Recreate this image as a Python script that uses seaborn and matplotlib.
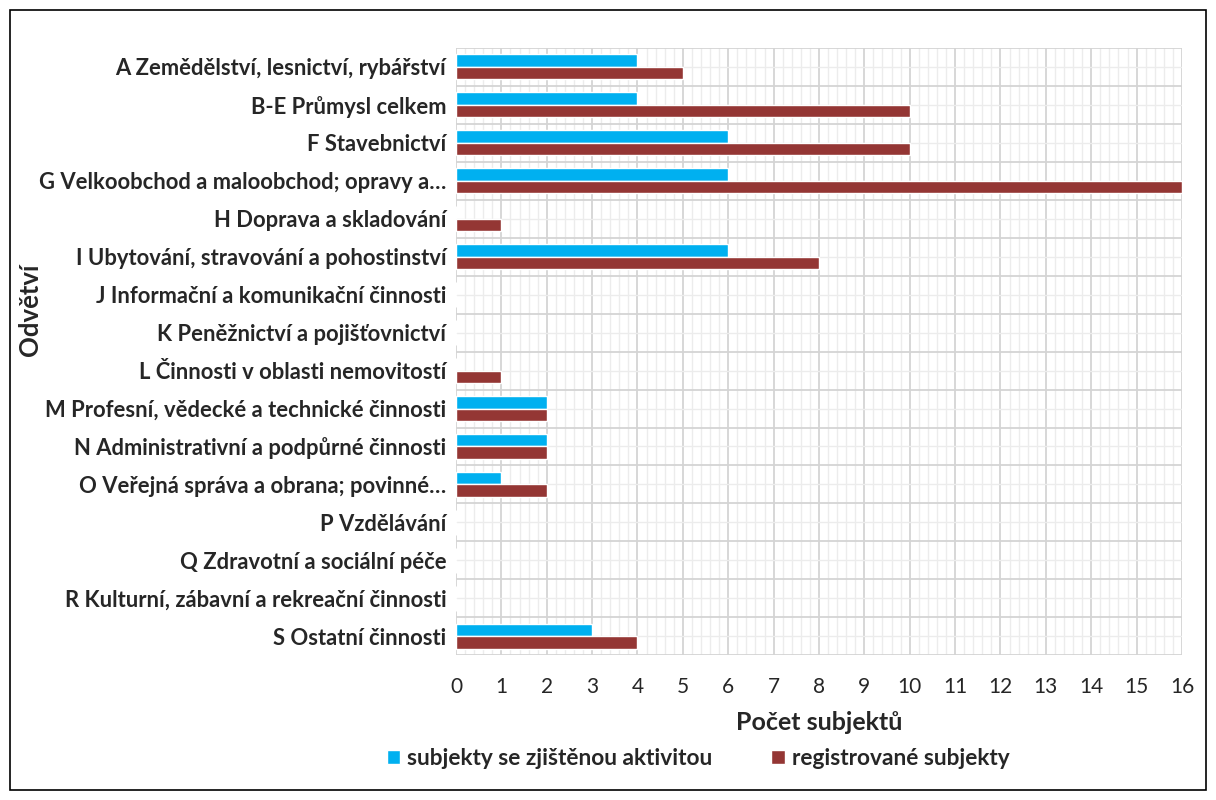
import numpy as np
import pandas as pd
import matplotlib.pyplot as plt
from matplotlib.patches import Rectangle, Patch
import seaborn as sns

# --- DATA ---
categories = [
    "A Zemědělství, lesnictví, rybářství",
    "B-E Průmysl celkem",
    "F Stavebnictví",
    "G Velkoobchod a maloobchod; opravy a…",
    "H Doprava a skladování",
    "I Ubytování, stravování a pohostinství",
    "J Informační a komunikační činnosti",
    "K Peněžnictví a pojišťovnictví",
    "L Činnosti v oblasti nemovitostí",
    "M Profesní, vědecké a technické činnosti",
    "N Administrativní a podpůrné činnosti",
    "O Veřejná správa a obrana; povinné…",
    "P Vzdělávání",
    "Q Zdravotní a sociální péče",
    "R Kulturní, zábavní a rekreační činnosti",
    "S Ostatní činnosti",
]
aktivni = [4, 4, 6, 6, 0, 6, 0, 0, 0, 2, 2, 1, 0, 0, 0, 3]
registrovane = [5, 10, 10, 16, 1, 8, 0, 0, 1, 2, 2, 2, 0, 0, 0, 4]
series_names = ["subjekty se zjištěnou aktivitou", "registrované subjekty"]
colors = ["#00B0F0", "#943634"]

df = pd.DataFrame({
    "Odvětví": categories * 2,
    "Počet": aktivni + registrovane,
    "Řada": [series_names[0]] * len(categories) + [series_names[1]] * len(categories),
})

sns.set_style("white")
plt.rcParams['font.family'] = ['Lato', 'DejaVu Sans']

fig = plt.figure(figsize=(12.16, 8), dpi=100)
ax = fig.add_axes([0.375, 0.181, 0.597, 0.759])

sns.barplot(data=df, y="Odvětví", x="Počet", hue="Řada", palette=colors,
            orient="h", width=0.66, saturation=1, ax=ax, legend=False,
            order=categories, hue_order=series_names)

ax.set_xlim(0, 16)
ax.set_ylim(len(categories) - 0.5, -0.5)
ax.set_xticks(np.arange(0, 17, 1))
ax.set_xticks(np.arange(0, 16.01, 0.2), minor=True)
ax.set_yticks(np.arange(-0.5, len(categories), 1), minor=True)

ax.grid(which="major", axis="x", color="#d4d4d4", linewidth=1.3)
ax.grid(which="minor", axis="x", color="#ececec", linewidth=1.0)
ax.grid(which="minor", axis="y", color="#d4d4d4", linewidth=1.3)
ax.grid(which="major", axis="y", color="#ececec", linewidth=1.0)
ax.set_axisbelow(True)
for s in ax.spines.values():
    s.set_visible(False)

ax.tick_params(which="both", length=0)
ax.tick_params(axis="x", labelsize=15, pad=16)
ax.tick_params(axis="y", pad=7)
for lab in ax.get_yticklabels():
    lab.set_fontsize(15.8)
    lab.set_fontweight("bold")

ax.set_xlabel("Počet subjektů", fontsize=18, fontweight="bold", labelpad=10)
ax.set_ylabel("")
fig.text(0.025, 0.6125, "Odvětví", rotation=90, fontsize=18.5, fontweight="bold",
         va="center", ha="center")

handles = [Patch(facecolor=c, label=n) for c, n in zip(colors, series_names)]
fig.legend(handles=handles, loc="center", bbox_to_anchor=(0.574, 0.052), ncol=2,
           frameon=False, handlelength=0.6, handleheight=0.6, columnspacing=2.6,
           handletextpad=0.3, prop={"weight": "bold", "size": 16.3})

fig.patches.append(Rectangle((0.008, 0.012), 0.984, 0.975, transform=fig.transFigure,
                             fill=False, edgecolor="black", linewidth=1.2))

fig.savefig("out.png", dpi=100)
